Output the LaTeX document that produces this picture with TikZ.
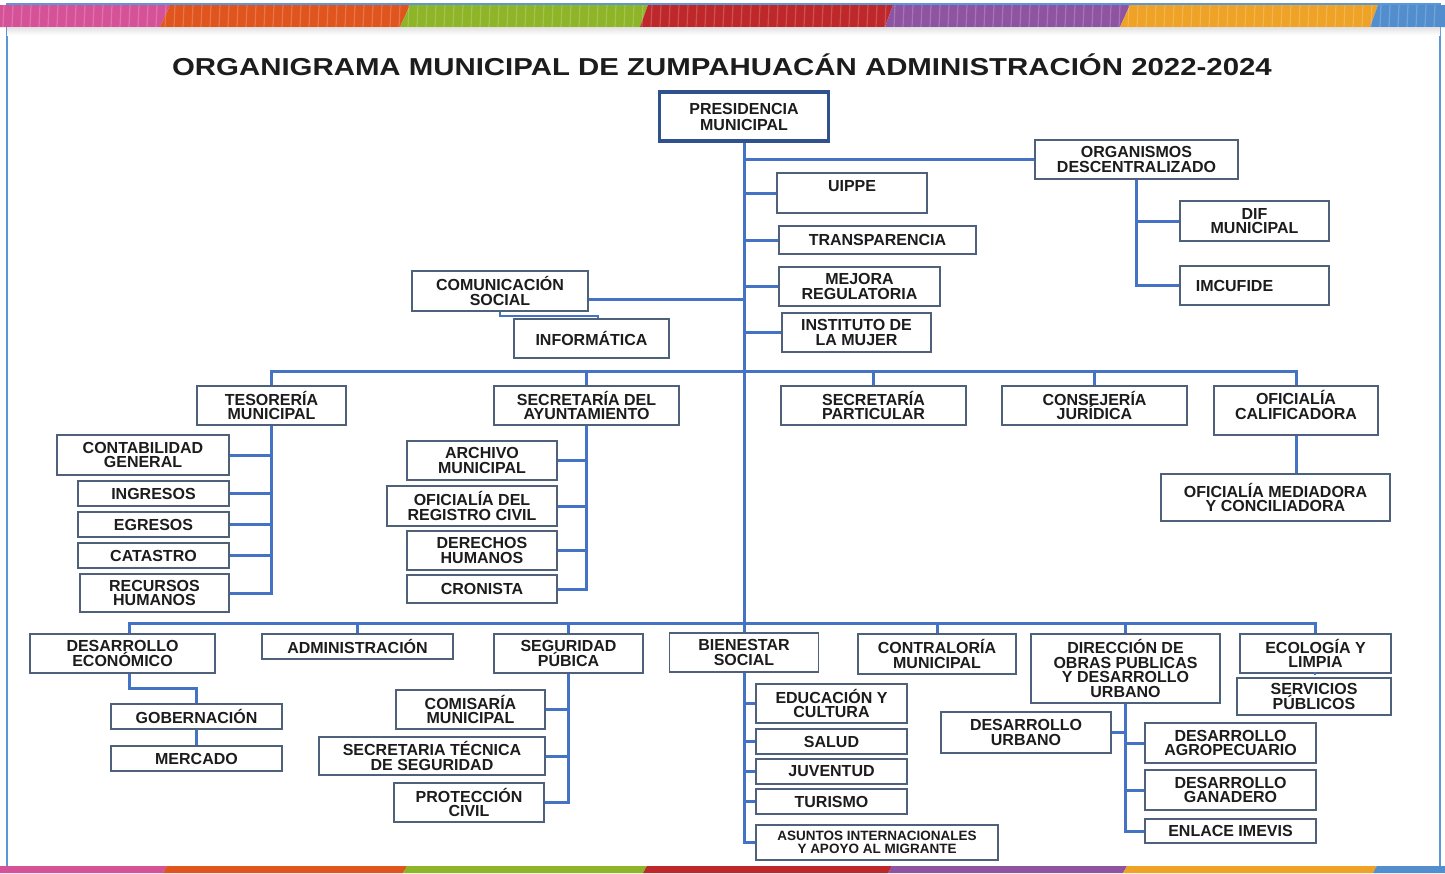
\documentclass[tikz,border=0pt]{standalone}
\usepackage{fontspec}
\setmainfont{Liberation Sans}
\usetikzlibrary{calc}

\definecolor{linkblue}{RGB}{68,114,196}
\definecolor{boxline}{RGB}{78,96,122}
\definecolor{presline}{RGB}{47,82,143}
\definecolor{frameblue}{RGB}{91,150,215}
\definecolor{inktext}{RGB}{28,28,28}
\definecolor{bandpink}{RGB}{214,82,152}
\definecolor{bandorange}{RGB}{224,84,30}
\definecolor{bandgreen}{RGB}{142,180,40}
\definecolor{bandred}{RGB}{190,40,42}
\definecolor{bandpurple}{RGB}{142,84,162}
\definecolor{bandgold}{RGB}{238,162,38}
\definecolor{bandsky}{RGB}{82,142,206}

\tikzset{
  unit/.style={draw=boxline, line width=1.6pt, fill=white, inner sep=0pt, align=center,
    text=inktext, font=\bfseries\fontsize{16}{14.7}\selectfont},
  smallunit/.style={unit, font=\bfseries\fontsize{13.5}{13}\selectfont},
  link/.style={draw=linkblue, line width=3pt},
}

\begin{document}
\begin{tikzpicture}[x=1pt, y=-1pt]
			%%%%% FRAME %%%%%
			\useasboundingbox (0,0) rectangle (1445,873);
			\fill[white] (0,0) rectangle (1445,873);
			\draw[frameblue, line width=2pt] (7,4) rectangle (1440,869);
			
			% top band
			\fill[bandpink] (0,5) -- (170,5) -- (160,27) -- (0,27) -- cycle;
			\fill[bandorange] (170,5) -- (410,5) -- (400,27) -- (160,27) -- cycle;
			\fill[bandgreen] (410,5) -- (648,5) -- (640,27) -- (400,27) -- cycle;
			\fill[bandred] (648,5) -- (893,5) -- (885,27) -- (640,27) -- cycle;
			\fill[bandpurple] (893,5) -- (1130,5) -- (1120,27) -- (885,27) -- cycle;
			\fill[bandgold] (1130,5) -- (1378,5) -- (1370,27) -- (1120,27) -- cycle;
			\fill[bandsky] (1378,5) -- (1445,5) -- (1445,27) -- (1370,27) -- cycle;
			\foreach \x in {4,13,...,1440}
				\draw[white, opacity=0.2, line width=1.2pt] (\x,5) -- (\x-1,27);
			\shade[top color=black!12, bottom color=white] (7,27) rectangle (1440,35);
			
			% bottom band
			\fill[bandpink] (0,866) -- (167,866) -- (163,873) -- (0,873) -- cycle;
			\fill[bandorange] (167,866) -- (407,866) -- (403,873) -- (163,873) -- cycle;
			\fill[bandgreen] (407,866) -- (647,866) -- (643,873) -- (403,873) -- cycle;
			\fill[bandred] (647,866) -- (892,866) -- (888,873) -- (643,873) -- cycle;
			\fill[bandpurple] (892,866) -- (1127,866) -- (1123,873) -- (888,873) -- cycle;
			\fill[bandgold] (1127,866) -- (1377,866) -- (1373,873) -- (1123,873) -- cycle;
			\fill[bandsky] (1377,866) -- (1445,866) -- (1445,873) -- (1373,873) -- cycle;
			
			%%%%% TITLE %%%%%
			\node[anchor=base, text=inktext, font=\bfseries\fontsize{24.5}{28}\selectfont] (title) at (722,75)
				{\scalebox{1.2}[1]{ORGANIGRAMA MUNICIPAL DE ZUMPAHUAC\'AN ADMINISTRACI\'ON 2022-2024}};
			
			%%%%% TOP %%%%%
			\node[unit, draw=presline, line width=3.5pt, minimum width=169, minimum height=49,
				font=\bfseries\fontsize{16}{16}\selectfont] (pres) at (744,116.5) {PRESIDENCIA\\MUNICIPAL};
			
			\node[unit, minimum width=203, minimum height=39] (org) at (1136.5,159.5) {ORGANISMOS\\DESCENTRALIZADO};
			\node[unit, minimum width=149, minimum height=40] (dif) at (1254.5,221) {DIF\\MUNICIPAL};
			\node[unit, minimum width=149, minimum height=39] (imcu) at (1254.5,285.5) {IMCUFIDE\hspace*{40pt}};
			
			\node[unit, minimum width=150, minimum height=40, text depth=14pt] (uippe) at (852,193) {UIPPE};
			\node[unit, minimum width=197, minimum height=28] (transp) at (877.5,240) {TRANSPARENCIA};
			\node[unit, minimum width=161, minimum height=39] (mejora) at (859.5,286.5) {MEJORA\\REGULATORIA};
			\node[unit, minimum width=149, minimum height=39] (mujer) at (856.5,332.5) {INSTITUTO DE\\LA MUJER};
			
			\node[unit, minimum width=176, minimum height=40] (com) at (500,291) {COMUNICACI\'ON\\SOCIAL};
			\node[unit, minimum width=155, minimum height=39] (inf) at (591.5,338.5) {INFORM\'ATICA};
			
			%%%%% FIRST ROW %%%%%
			\coordinate (bar1) at (744,371);
			\node[unit, minimum width=149, minimum height=39] (teso) at (271.5,405.5) {TESORER\'IA\\MUNICIPAL};
			\node[unit, minimum width=185, minimum height=39] (secay) at (586.5,405.5) {SECRETAR\'IA DEL\\AYUNTAMIENTO};
			\node[unit, minimum width=185, minimum height=39] (secpart) at (873.5,405.5) {SECRETAR\'IA\\PARTICULAR};
			\node[unit, minimum width=185, minimum height=39] (cons) at (1094.5,405.5) {CONSEJER\'IA\\JUR\'IDICA};
			\node[unit, minimum width=164, minimum height=49] (cali) at (1296,410.5) {OFICIAL\'IA\\CALIFICADORA\\[-3pt]};
			\node[unit, minimum width=229, minimum height=47] (medi) at (1275.5,497.5) {OFICIAL\'IA MEDIADORA\\Y CONCILIADORA};
			
			\node[unit, minimum width=172, minimum height=40] (conta) at (143,455) {CONTABILIDAD\\GENERAL};
			\node[unit, minimum width=151, minimum height=25] (ingr) at (153.5,493.5) {INGRESOS};
			\node[unit, minimum width=151, minimum height=25] (egr) at (153.5,524.5) {EGRESOS};
			\node[unit, minimum width=151, minimum height=25] (cat) at (153.5,555.5) {CATASTRO};
			\node[unit, minimum width=149, minimum height=38] (rh) at (154.5,593) {RECURSOS\\HUMANOS};
			
			\node[unit, minimum width=150, minimum height=39] (arch) at (482,460.5) {ARCHIVO\\MUNICIPAL};
			\node[unit, minimum width=170, minimum height=40] (reg) at (472,506) {OFICIAL\'IA DEL\\REGISTRO CIVIL};
			\node[unit, minimum width=150, minimum height=39] (dh) at (482,550.5) {DERECHOS\\HUMANOS};
			\node[unit, minimum width=150, minimum height=28] (cron) at (482,589) {CRONISTA};
			
			%%%%% SECOND ROW %%%%%
			\coordinate (bar2) at (744,623);
			\node[unit, minimum width=185, minimum height=39] (deseco) at (122.5,653.5) {DESARROLLO\\ECON\'OMICO};
			\node[unit, minimum width=191, minimum height=25] (admin) at (357.5,646.5) {ADMINISTRACI\'ON};
			\node[unit, minimum width=149, minimum height=39] (segpub) at (568.5,653.5) {SEGURIDAD\\P\'UBICA};
			\node[unit, minimum width=149, minimum height=39] (bien) at (744,652.5) {BIENESTAR\\SOCIAL};
			\node[unit, minimum width=158, minimum height=40] (contra) at (937,654) {CONTRALOR\'IA\\MUNICIPAL};
			\node[unit, minimum width=189, minimum height=69] (dir) at (1125.5,668.5) {DIRECCI\'ON DE\\OBRAS PUBLICAS\\Y DESARROLLO\\URBANO};
			\node[unit, minimum width=151, minimum height=39] (ecol) at (1315.5,653.5) {ECOLOG\'IA Y\\LIMPIA};
			\node[unit, minimum width=154, minimum height=37] (serv) at (1314,696.5) {SERVICIOS\\P\'UBLICOS};
			
			\node[unit, minimum width=171, minimum height=25] (gob) at (196.5,716.5) {GOBERNACI\'ON};
			\node[unit, minimum width=171, minimum height=25] (merc) at (196.5,758.5) {MERCADO};
			
			\node[unit, minimum width=149, minimum height=39] (comi) at (470.5,709.5) {COMISAR\'IA\\MUNICIPAL};
			\node[unit, minimum width=226, minimum height=38] (sectec) at (432,756) {SECRETARIA T\'ECNICA\\DE SEGURIDAD};
			\node[unit, minimum width=150, minimum height=39] (prot) at (469,802.5) {PROTECCI\'ON\\CIVIL};
			
			\node[unit, minimum width=151, minimum height=39] (educ) at (831.5,703.5) {EDUCACI\'ON Y\\CULTURA};
			\node[unit, minimum width=151, minimum height=25] (salud) at (831.5,741.5) {SALUD};
			\node[unit, minimum width=151, minimum height=25] (juv) at (831.5,771.5) {JUVENTUD};
			\node[unit, minimum width=151, minimum height=25] (tur) at (831.5,801.5) {TURISMO};
			\node[smallunit, minimum width=242, minimum height=35] (asun) at (877,842.5) {ASUNTOS INTERNACIONALES\\Y APOYO AL MIGRANTE};
			
			\node[unit, minimum width=170, minimum height=41] (durb) at (1026,732.5) {DESARROLLO\\URBANO};
			\node[unit, minimum width=171, minimum height=40] (agro) at (1230.5,743) {DESARROLLO\\AGROPECUARIO};
			\node[unit, minimum width=171, minimum height=40] (gana) at (1230.5,790) {DESARROLLO\\GANADERO};
			\node[unit, minimum width=171, minimum height=24] (imevis) at (1230.5,831) {ENLACE IMEVIS};
			
			%%%%% LINKS %%%%%
			\draw[link] (pres.south) -- (bien.north);
			\draw[link] (org.west) -- (org.west -| pres.south);
			\draw[link] (org.south) |- (imcu.west);
			\draw[link] (dif.west) -- (dif.west -| org.south);
			\draw[link] (uippe.west) -- (uippe.west -| pres.south);
			\draw[link] (transp.west) -- (transp.west -| pres.south);
			\draw[link] (mejora.west) -- (mejora.west -| pres.south);
			\draw[link] (mujer.west) -- (mujer.west -| pres.south);
			\draw[link] ([yshift=-8pt]com.east) -- ([yshift=-8pt]com.east -| pres.south);
			\draw[link, line width=2pt] (com.south) -- ++(0,4) -| ([xshift=6.5pt]inf.north);
			
			\draw[link] (teso.north) |- (bar1) -| (cali.north);
			\draw[link] (secay.north) -- (secay.north |- bar1);
			\draw[link] (secpart.north) -- (secpart.north |- bar1);
			\draw[link] (cons.north) -- (cons.north |- bar1);
			\draw[link] (cali.south) -- (cali.south |- medi.north);
			
			\draw[link] (teso.south) |- (rh.east);
			\draw[link] (conta.east) -- (conta.east -| teso.south);
			\draw[link] (ingr.east) -- (ingr.east -| teso.south);
			\draw[link] (egr.east) -- (egr.east -| teso.south);
			\draw[link] (cat.east) -- (cat.east -| teso.south);
			
			\draw[link] (secay.south) |- (cron.east);
			\draw[link] (arch.east) -- (arch.east -| secay.south);
			\draw[link] (reg.east) -- (reg.east -| secay.south);
			\draw[link] (dh.east) -- (dh.east -| secay.south);
			
			\draw[link] ([xshift=7pt]deseco.north) |- (bar2) -| (ecol.north);
			\draw[link] (admin.north) -- (admin.north |- bar2);
			\draw[link] (segpub.north) -- (segpub.north |- bar2);
			\draw[link] (contra.north) -- (contra.north |- bar2);
			\draw[link] (dir.north) -- (dir.north |- bar2);
			\draw[link] (ecol.south) -- (ecol.south -| serv.north);
			
			\draw[link] ([xshift=7pt]deseco.south) -- ++(0,15) -| (gob.north);
			\draw[link] (gob.south) -- (merc.north);
			
			\draw[link] (segpub.south) |- (prot.east);
			\draw[link] (comi.east) -- (comi.east -| segpub.south);
			\draw[link] (sectec.east) -- (sectec.east -| segpub.south);
			
			\draw[link] (bien.south) |- (asun.west);
			\draw[link] (educ.west) -- (educ.west -| bien.south);
			\draw[link] (salud.west) -- (salud.west -| bien.south);
			\draw[link] (juv.west) -- (juv.west -| bien.south);
			\draw[link] (tur.west) -- (tur.west -| bien.south);
			
			\draw[link] (dir.south) |- (imevis.west);
			\draw[link] (durb.east) -- (durb.east -| dir.south);
			\draw[link] (agro.west) -- (agro.west -| dir.south);
			\draw[link] (gana.west) -- (gana.west -| dir.south);
			
			%%%%% END %%%%%
\end{tikzpicture}
\end{document}
